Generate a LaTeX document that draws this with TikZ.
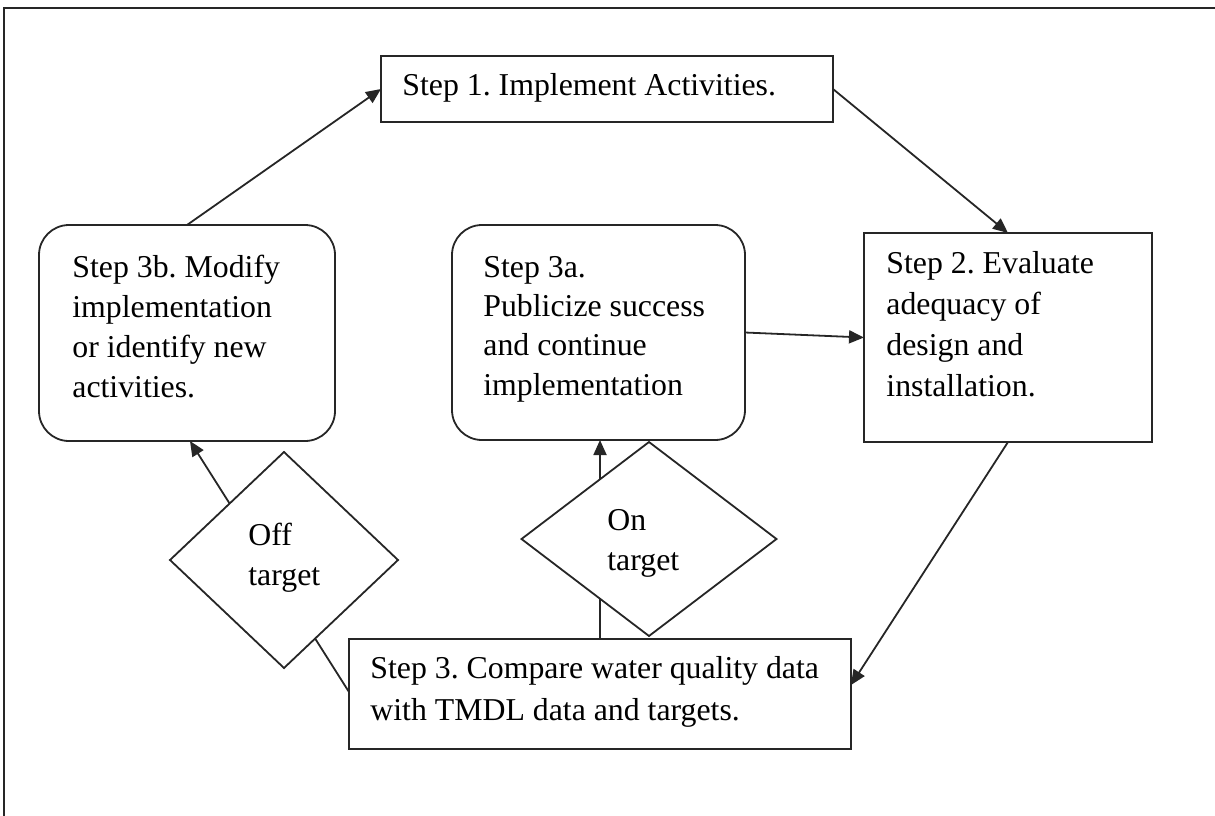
\documentclass[tikz,border=0pt]{standalone}
\usepackage{fontspec}
\setmainfont{Liberation Serif}
\usetikzlibrary{arrows.meta,shapes.geometric}
\frenchspacing
\newcommand{\stacktext}[1]{\begin{tabular}[t]{@{}l@{}}#1\end{tabular}}
\tikzset{
  line/.style={draw=black!85, line width=0.9pt},
  stepbox/.style={line, rectangle, inner sep=0pt, outer sep=0pt},
  roundbox/.style={stepbox, rounded corners=15pt},
  decision/.style={line, diamond, fill=white, inner sep=0pt, outer sep=0pt},
  label/.style={anchor=base west, inner sep=0pt,
    font=\fontsize{15.9pt}{20pt}\selectfont\frenchspacing},
  conn/.style={line, -{Triangle[length=7.5pt,width=6.5pt]}},
}
\begin{document}
\begin{tikzpicture}[x=0.5pt,y=-0.5pt]
\useasboundingbox (0,0) rectangle (1215,815);
% frame
\draw[line] (4,830) -- (4,8) -- (1230,8);
% boxes
\node[stepbox, minimum width=226pt, minimum height=33pt] (s1) at (607,89) {};
\node[stepbox, minimum width=144pt, minimum height=104.5pt] (s2) at (1008,337.5) {};
\node[stepbox, minimum width=251pt, minimum height=55pt] (s3) at (600,694) {};
\node[roundbox, minimum width=148pt, minimum height=108pt] (s3b) at (187,333) {};
\node[roundbox, minimum width=146.5pt, minimum height=107.5pt] (s3a) at (598.5,332.5) {};
% texts
\node[label] (t1) at (402,95) {Step 1. Implement Activities.};
\node[label, font=\fontsize{15.9pt}{20.5pt}\selectfont\frenchspacing] (t2) at (886,273) {\stacktext{Step 2. Evaluate\\adequacy of\\design and\\installation.}};
\node[label, font=\fontsize{15.9pt}{21pt}\selectfont\frenchspacing] (t3) at (370,678) {\stacktext{Step 3. Compare water quality data\\with TMDL data and targets.}};
\node[label] (t3b) at (72,277) {\stacktext{Step 3b. Modify\\implementation\\or identify new\\activities.}};
\node[label, font=\fontsize{15.9pt}{19.7pt}\selectfont\frenchspacing] (t3a) at (483,277) {\stacktext{Step 3a.\\Publicize success\\and continue\\implementation}};
% connectors
\draw[conn] (s3b.north) -- (s1.west);
\draw[conn] (s1.east) -- (s2.north);
\draw[conn] (s2.south) -- ([yshift=4.5pt]s3.east);
\draw[conn] (s3a.east) -- (s2.west);
\draw[conn] ([yshift=1pt]s3.west) -- ([xshift=1.5pt]s3b.south);
\draw[conn] (s3.north) -- (s3.north |- s3a.south);
% decisions (drawn over the connectors)
\node[decision, minimum width=114pt, minimum height=108pt] (off) at (284,560) {};
\node[decision, minimum width=127.5pt, minimum height=97pt] (on) at (649,539) {};
\node[label] (toff) at (248,545) {\stacktext{Off\\target}};
\node[label] (ton) at (607,530) {\stacktext{On\\target}};
\end{tikzpicture}
\end{document}
